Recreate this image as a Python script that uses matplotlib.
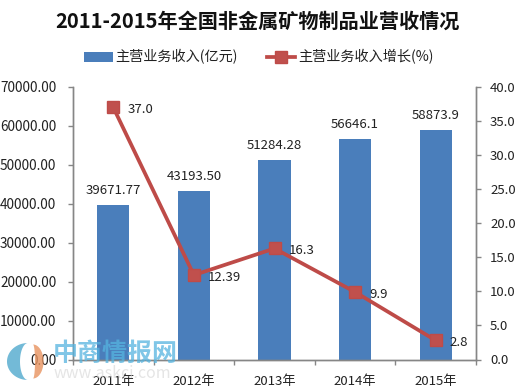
import numpy as np
import matplotlib
matplotlib.use("Agg")
import matplotlib.pyplot as plt
from matplotlib.patches import Polygon

plt.rcParams['font.family'] = ['Noto Sans CJK SC', 'DejaVu Sans']

years = ['2011年', '2012年', '2013年', '2014年', '2015年']
revenue = [39671.77, 43193.50, 51284.28, 56646.1, 58873.9]
revenue_labels = ['39671.77', '43193.50', '51284.28', '56646.1', '58873.9']
growth = [37.0, 12.39, 16.3, 9.9, 2.8]
growth_labels = ['37.0', '12.39', '16.3', '9.9', '2.8']
left_ticks = [0, 10000, 20000, 30000, 40000, 50000, 60000, 70000]
right_ticks = [0, 5, 10, 15, 20, 25, 30, 35, 40]
title = '2011-2015年全国非金属矿物制品业营收情况'

W, H = 524, 387
fig = plt.figure(figsize=(W / 100, H / 100), dpi=100, facecolor='white')
ax = fig.add_axes([73 / W, 1 - 359.5 / H, (476 - 73) / W, (359.5 - 87) / H])
ax2 = ax.twinx()
ax.set_zorder(1)
ax2.set_zorder(2)
ax2.patch.set_visible(False)
TXT = '#222222'
GRID = '#868686'
x = list(range(len(years)))

bars = ax.bar(x, revenue, width=0.4, color='#4a7ebb', label='主营业务收入(亿元)')
line, = ax2.plot(x, growth, color='#be4b48', lw=2.7, marker='s', ms=8,
                 markerfacecolor='#c0504d', markeredgecolor='#be4b48',
                 label='主营业务收入增长(%)')

ax.set_xlim(-0.5, 4.5)
ax.set_ylim(0, 70000)
ax2.set_ylim(0, 40)
ax.set_xticks(x)
ax.set_xticklabels(years, fontsize=9.5, color=TXT)
ax.set_xticks([i - 0.5 for i in range(6)], minor=True)
ax.tick_params(axis='x', which='major', length=0, pad=11.5)
ax.tick_params(axis='x', which='minor', length=3.5, direction='out', color=GRID, width=1)
ax.set_yticks(left_ticks)
ax.set_yticklabels([f'{v:.2f}' for v in left_ticks], fontsize=9.8, color=TXT)
ax.tick_params(axis='y', length=3.6, color=GRID, width=1, pad=8.5)
ax2.set_yticks(right_ticks)
ax2.set_yticklabels([f'{v:.1f}' for v in right_ticks], fontsize=9.5, color=TXT)
ax2.tick_params(axis='y', length=3.6, color=GRID, width=1, pad=6.5)
for a in (ax, ax2):
    a.spines['top'].set_visible(False)
    for s in a.spines.values():
        s.set_color(GRID)
        s.set_linewidth(1)

for xi, v, t in zip(x, revenue, revenue_labels):
    ax.annotate(t, (xi, v), xytext=(0, 6), textcoords='offset points',
                ha='center', va='bottom', fontsize=9.5, color=TXT, zorder=5)
for xi, v, t in zip(x, growth, growth_labels):
    ax2.annotate(t, (xi, v), xytext=(10, -1.5), textcoords='offset points',
                 ha='left', va='center', fontsize=9.5, color=TXT, zorder=5)

fig.text(257.5 / W, 1 - 21 / H, title, ha='center', va='center', fontsize=14.5,
         fontweight='bold', color='#111111')

fig.legend([bars, line], [bars.get_label(), line.get_label()], loc='center',
           bbox_to_anchor=(259 / W, 1 - 57 / H), ncol=2, frameon=False, fontsize=10.2,
           handlelength=2.0, columnspacing=2.05, handletextpad=0.2,
           labelcolor=TXT)

# watermark
ov = fig.add_axes([0, 0, 1, 1], facecolor='none', zorder=5)
ov.set_xlim(0, W)
ov.set_ylim(H, 0)
ov.axis('off')


def crescent(cx, cy, ry, outer, inner, t0, t1, **kw):
    t = np.radians(np.linspace(t0, t1, 60))
    xo = cx + outer * np.cos(t)
    yo = cy + ry * np.sin(t)
    xi = cx + inner * np.cos(t[::-1])
    yi = cy + ry * np.sin(t[::-1])
    ov.add_patch(Polygon(np.c_[np.r_[xo, xi], np.r_[yo, yi]], closed=True, lw=0, **kw))


crescent(28, 361.5, 18.5, 21, 8, 90, 270, color='#5aaed0', alpha=0.85)
crescent(33, 361.5, 17, 10.5, 2, -90, 90, color='#e8935f', alpha=0.8)
ov.text(115, 354, '中商情报网', ha='center', va='center', fontsize=18,
        color='#55b4e0', alpha=0.75, fontweight='bold')
ov.text(112, 374, 'www.askci.com', ha='center', va='center', fontsize=11.5,
        color='#d4d4d4', alpha=0.6)

fig.savefig('out.png', dpi=100, facecolor='white')
